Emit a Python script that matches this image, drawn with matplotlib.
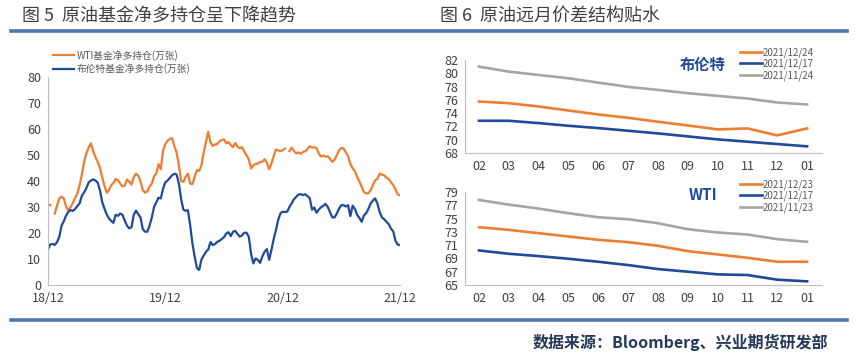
import numpy as np
import pandas as pd
import matplotlib
matplotlib.use('Agg')
import matplotlib.pyplot as plt
import matplotlib.dates as mdates
from matplotlib.lines import Line2D

plt.rcParams['font.family'] = ['Noto Sans CJK SC', 'DejaVu Sans']
plt.rcParams['axes.unicode_minus'] = False

# ── Data ──────────────────────────────────────────────────────────────
nan = np.nan
wti_net_long = [
    31.0, 30.7, nan, 27.5, 30.5, 33.3, 34.0, 33.3, 30.2, 28.7,
    29.9, 31.6, 33.5, 35.2, 38.4, 42.4, 47.4, 50.6, 52.8, 54.5,
    51.5, 49.2, 47.5, 45.0, 41.5, 38.2, 35.5, 36.5, 38.4, 39.2,
    40.8, 40.3, 39.0, 37.9, 38.2, 40.5, 39.8, 38.6, 41.5, 42.8,
    42.0, 39.8, 36.5, 35.5, 36.0, 37.8, 39.0, 41.8, 42.9, 46.5,
    44.5, 51.8, 54.2, 55.5, 56.2, 56.5, 53.3, 51.0, 46.0, 40.0,
    39.7, 41.6, 42.8, 39.0, 38.8, 41.5, 44.2, 43.9, 46.0, 51.0,
    55.0, 58.9, 55.0, 53.5, 54.0, 54.2, 55.2, 55.8, 56.0, 54.5,
    55.0, 53.8, 53.0, 54.6, 53.2, 52.6, 53.0, 51.2, 49.9, 48.2,
    44.8, 46.0, 46.6, 46.7, 47.3, 47.4, 48.4, 47.0, 44.5, 46.7,
    49.5, 52.1, 51.8, 51.5, 51.8, 52.5, nan, 51.5, 52.8, 51.5,
    50.6, 51.0, 50.5, 51.2, 51.4, 52.3, 53.4, 52.8, 53.0, 52.7,
    50.5, 49.4, 49.8, 49.4, 49.5, 48.5, 47.4, 48.2, 49.9, 51.8,
    52.7, 52.5, 51.0, 49.6, 46.5, 44.9, 43.8, 41.5, 39.8, 37.8,
    35.8, 35.2, 35.3, 36.5, 38.5, 40.3, 40.8, 42.9, 42.4, 42.2,
    41.2, 40.8, 39.5, 38.4, 36.8, 34.8, 34.5,
]
brent_net_long = [
    13.7, 15.6, 15.8, 15.4, 16.5, 18.5, 22.8, 24.5, 26.7, 28.1,
    28.8, 28.5, 29.2, 30.4, 31.4, 34.3, 35.6, 37.3, 39.4, 40.2,
    40.6, 40.2, 39.4, 36.5, 32.0, 29.4, 27.2, 25.6, 24.7, 23.9,
    27.0, 26.6, 27.5, 27.0, 24.8, 22.8, 21.8, 22.2, 27.0, 28.6,
    27.2, 26.0, 21.5, 20.5, 20.5, 22.8, 26.0, 30.0, 31.8, 33.6,
    33.3, 37.1, 39.5, 40.2, 41.2, 42.2, 42.8, 42.5, 39.0, 33.0,
    29.0, 28.5, 28.8, 23.0, 16.0, 10.9, 6.5, 5.8, 9.8, 11.3,
    12.8, 13.6, 16.5, 15.4, 15.7, 16.6, 17.0, 17.7, 18.4, 19.8,
    20.3, 18.8, 20.5, 20.8, 19.6, 18.6, 19.1, 20.1, 20.1, 18.5,
    12.0, 8.3, 10.2, 9.6, 8.5, 11.0, 12.8, 13.8, 9.7, 13.4,
    17.6, 21.1, 25.0, 27.5, 28.2, 28.1, 28.2, 30.0, 31.4, 33.0,
    33.9, 34.8, 34.9, 34.6, 34.9, 34.2, 33.4, 29.0, 29.8, 27.8,
    29.0, 29.9, 30.5, 31.2, 30.0, 28.0, 26.0, 26.0, 27.5, 29.4,
    30.7, 30.7, 30.2, 30.7, 26.5, 30.5, 29.3, 27.0, 25.8, 24.3,
    26.8, 27.6, 29.3, 31.4, 32.5, 33.3, 31.3, 28.0, 26.0, 25.3,
    24.3, 23.4, 21.7, 20.6, 17.0, 15.5, 15.4,
]
weeks = pd.date_range('2018-12-07', periods=len(wti_net_long), freq='7D')
left_ticks = pd.to_datetime(['2018-12-07', '2019-12-06',
                             '2020-12-04', '2021-12-03'])

months = ['02', '03', '04', '05', '06', '07', '08', '09', '10', '11', '12', '01']
brent_1224 = [75.75, 75.5, 75.0, 74.4, 73.8, 73.3, 72.7, 72.15, 71.55, 71.7, 70.65, 71.7]
brent_1217 = [72.85, 72.85, 72.5, 72.1, 71.75, 71.35, 70.95, 70.5, 70.05, 69.7, 69.35, 69.0]
brent_1124 = [81.0, 80.25, 79.75, 79.25, 78.6, 77.95, 77.5, 77.0, 76.6, 76.2, 75.6, 75.3]
wti_1223 = [73.7, 73.3, 72.8, 72.3, 71.8, 71.45, 70.9, 70.1, 69.6, 69.1, 68.5, 68.5]
wti_1217 = [70.2, 69.7, 69.35, 68.95, 68.5, 68.0, 67.4, 67.0, 66.6, 66.5, 65.8, 65.55]
wti_1123 = [77.8, 77.1, 76.5, 75.8, 75.2, 74.9, 74.3, 73.4, 72.9, 72.6, 71.9, 71.5]

ORANGE = '#ED7D31'
BLUE = '#1F4A9A'
GRAY = '#A5A5A5'
TEXT = '#404040'
AXIS = '#BFBFBF'
RULE = '#4F77AA'

W, H = 855, 355
fig = plt.figure(figsize=(W / 100, H / 100), dpi=100)


def box(x0, y0, x1, y1):
    """pixel box (top-left origin) -> figure fraction rect"""
    return [x0 / W, 1 - y1 / H, (x1 - x0) / W, (y1 - y0) / H]


def style(ax):
    for s in ('top', 'right'):
        ax.spines[s].set_visible(False)
    for s in ('left', 'bottom'):
        ax.spines[s].set_color(AXIS)
        ax.spines[s].set_linewidth(0.8)
    ax.tick_params(length=0, labelsize=9, colors=TEXT, pad=5)


# ── Header / footer rules and titles ──────────────────────────────────
fig.add_artist(Line2D([11 / W, 847 / W], [1 - 31 / H] * 2,
                      color=RULE, lw=2.6, transform=fig.transFigure))
fig.add_artist(Line2D([11 / W, 847 / W], [1 - 320 / H] * 2,
                      color=RULE, lw=2.6, transform=fig.transFigure))
fig.text(22 / W, 1 - 16 / H, '图 5  原油基金净多持仓呈下降趋势',
         fontsize=13, color=TEXT, va='center', ha='left')
fig.text(440 / W, 1 - 16 / H, '图 6  原油远月价差结构贴水',
         fontsize=13, color=TEXT, va='center', ha='left')
fig.text(828 / W, 1 - 342 / H, '数据来源：Bloomberg、兴业期货研发部',
         fontsize=11.5, color='#253858', fontweight='bold',
         va='center', ha='right')

# ── Left: fund net long positions ─────────────────────────────────────
ax1 = fig.add_axes(box(48, 77, 400, 285))
ax1.plot(weeks, wti_net_long, color=ORANGE, lw=1.6,
         label='WTI基金净多持仓(万张)')
ax1.plot(weeks, brent_net_long, color=BLUE, lw=1.6,
         label='布伦特基金净多持仓(万张)')
ax1.set_ylim(0, 80)
ax1.set_yticks(range(0, 81, 10))
ax1.set_xlim(weeks[0], weeks[-1])
ax1.set_xticks(left_ticks)
ax1.xaxis.set_major_formatter(mdates.DateFormatter('%y/%m'))
style(ax1)
ax1.legend(loc='upper left', bbox_to_anchor=(53 / W, 1 - 50 / H),
           bbox_transform=fig.transFigure, frameon=False, fontsize=7,
           handlelength=2.2, handletextpad=0.2, labelspacing=0.25,
           borderpad=0, borderaxespad=0, labelcolor='#595959')

# ── Right: forward curves ─────────────────────────────────────────────
x = np.arange(len(months))
panels = [
    (box(465, 60, 822, 153), (68, 82), '布伦特', 65,
     [(brent_1224, ORANGE, '2021/12/24'),
      (brent_1217, BLUE, '2021/12/17'),
      (brent_1124, GRAY, '2021/11/24')]),
    (box(465, 192, 822, 285), (65, 79), 'WTI', 195,
     [(wti_1223, ORANGE, '2021/12/23'),
      (wti_1217, BLUE, '2021/12/17'),
      (wti_1123, GRAY, '2021/11/23')]),
]
for rect, (lo, hi), name, name_y, series in panels:
    ax = fig.add_axes(rect)
    for vals, c, lab in series:
        ax.plot(x, vals, color=c, lw=1.9, label=lab)
    ax.set_ylim(lo, hi)
    ax.set_yticks(range(lo, hi + 1, 2))
    ax.set_xlim(-0.47, 11.5)
    ax.set_xticks(x)
    ax.set_xticklabels(months)
    style(ax)
    fig.text(703 / W, 1 - name_y / H, name, fontsize=11, fontweight='bold',
             color=BLUE, ha='center', va='center')
    top = rect[1] + rect[3]
    ax.legend(loc='upper left',
              bbox_to_anchor=(740 / W, top + 13 / H),
              bbox_transform=fig.transFigure, frameon=False, fontsize=7,
              handlelength=2.3, handletextpad=0.0, labelspacing=0.12,
              borderpad=0, borderaxespad=0, labelcolor='#595959')

fig.savefig('out.png', dpi=100)
